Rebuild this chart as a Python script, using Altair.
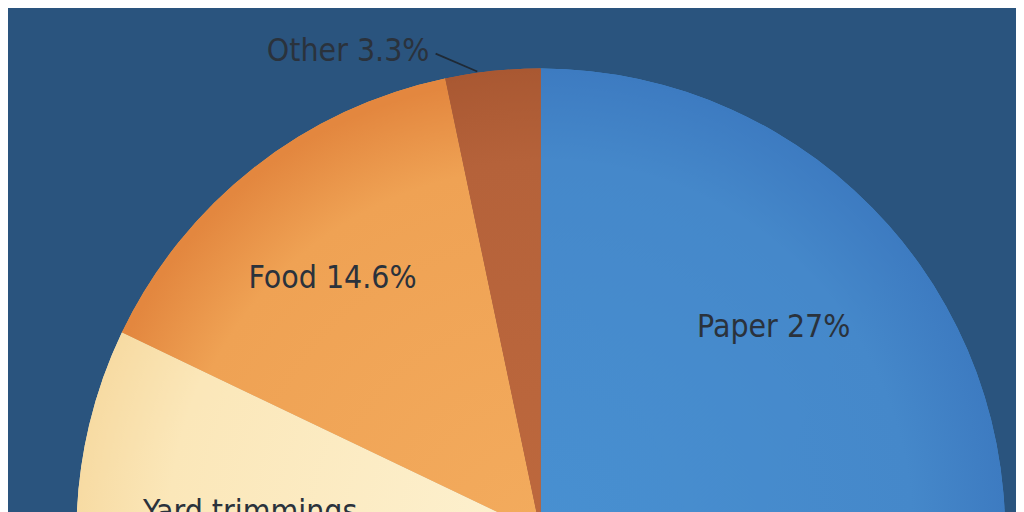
import math
import altair as alt
import pandas as pd

# ---- data (EPA municipal solid waste by material) ----
categories = ["Paper", "Glass", "Metals", "Plastics", "Rubber, leather & textiles",
              "Wood", "Yard trimmings", "Food", "Other"]
values = [27.0, 4.6, 9.0, 12.8, 9.0, 6.2, 13.5, 14.6, 3.3]
labels = ["Paper 27%", "Glass 4.6%", "Metals 9%", "Plastics 12.8%",
          "Rubber, leather & textiles 9%", "Wood 6.2%", "Yard trimmings\n13.5%",
          "Food 14.6%", "Other 3.3%"]
colors = ["#4388cc", "#7fb2e0", "#9aa7b4", "#5c9a6b", "#8f6fa8",
          "#a07850", "#fbe8bb", "#eea052", "#b5623a"]

df = pd.DataFrame({"category": categories, "value": values,
                   "label": labels, "order": list(range(len(categories)))})

W, H = 1016, 504
CX, CY, R = 537, 527, 468
FONT = "Liberation Sans Narrow, DejaVu Sans Condensed, sans-serif"
TXT = "#2a323c"
FS = 32

theta_scale = alt.Scale(domain=[0, 100], range=[0, 2 * math.pi])

base = (
    alt.Chart(df)
    .transform_window(cum="sum(value)", sort=[alt.SortField("order")], frame=[None, 0])
    .transform_calculate(start="datum.cum - datum.value",
                         mid="datum.cum - datum.value / 2")
)

arc_enc = dict(
    theta=alt.Theta("start:Q", scale=theta_scale, stack=None),
    theta2="cum:Q",
    x=alt.value(CX),
    y=alt.value(CY),
)

all_arcs = base.mark_arc(outerRadius=R).encode(
    color=alt.Color("category:N", scale=alt.Scale(domain=categories, range=colors), legend=None),
    **arc_enc,
)


def grad(cx, cy, r, c0, c1, c2):
    return alt.RadialGradient(
        gradient="radial",
        x1=cx, y1=cy, r1=0, x2=cx, y2=cy, r2=r,
        stops=[alt.GradientStop(offset=0, color=c0),
               alt.GradientStop(offset=0.8, color=c1),
               alt.GradientStop(offset=1, color=c2)],
    )


def slice_layer(cat, fill):
    return base.transform_filter(alt.datum.category == cat).mark_arc(
        outerRadius=R, fill=fill).encode(**arc_enc)


paper = slice_layer("Paper", grad(0.056, 0.889, 0.889, "#4890d1", "#4588ca", "#3d7bc1"))
food = slice_layer("Food", grad(0.951, 1.0, 1.0, "#f3ab5d", "#efa254", "#e3873f"))
yard = slice_layer("Yard trimmings", grad(1.0, 0.52, 1.0, "#fdf1d0", "#fbe7b9", "#f7dba3"))
other = slice_layer("Other", grad(0.603, 1.0, 1.0, "#bd683d", "#b5623a", "#a95832"))


def label_layer(cat, radius, dx=0, dy=0, align="center"):
    return base.transform_filter(alt.datum.category == cat).mark_text(
        radius=radius, dx=dx, dy=dy, align=align, baseline="middle",
        font=FONT, fontSize=FS, color=TXT, lineBreak="\n", lineHeight=38,
    ).encode(
        theta=alt.Theta("mid:Q", scale=theta_scale, stack=None),
        x=alt.value(CX), y=alt.value(CY),
        text="label:N",
    )


lbl_paper = label_layer("Paper", 313)
lbl_food = label_layer("Food", 330, dx=-6, dy=3)
lbl_yard = label_layer("Yard trimmings", 293, dy=-14)
lbl_other = label_layer("Other", 485, dx=-62, dy=-3, align="right")

leader = base.transform_filter(alt.datum.category == "Other").mark_rule(
    color="#1f2a36", strokeWidth=1.8
).encode(x=alt.value(431), x2=alt.value(473), y=alt.value(44), y2=alt.value(62))

chart = (
    alt.layer(all_arcs, paper, food, yard, other, leader,
              lbl_paper, lbl_food, lbl_yard, lbl_other)
    .properties(width=W, height=H, padding=0, background="#2a547e",
                autosize=alt.AutoSizeParams(type="none"))
    .configure_view(strokeWidth=0)
)

chart.save("out.html", embed_options={"renderer": "svg", "actions": False})
